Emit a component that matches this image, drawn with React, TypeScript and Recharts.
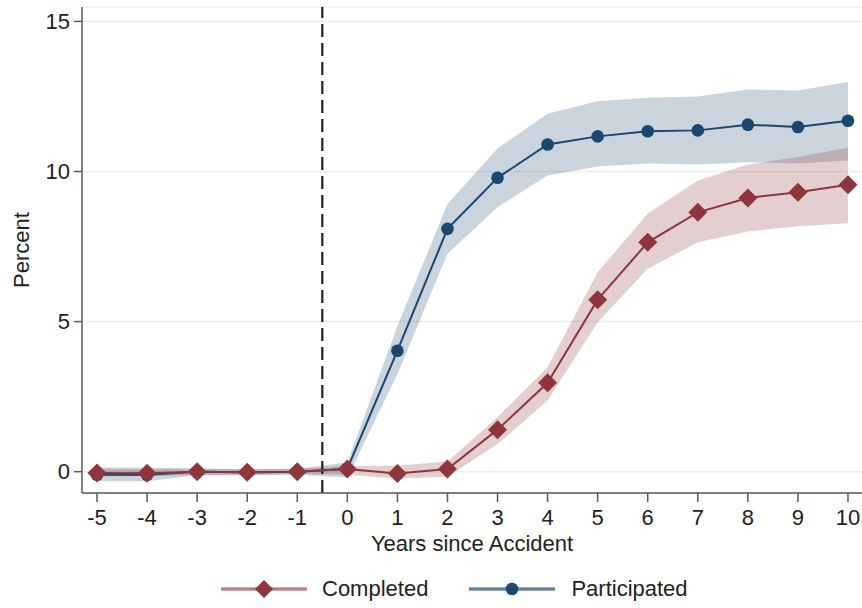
import { Area, CartesianGrid, ComposedChart, Label, Line, ReferenceLine, XAxis, YAxis } from "recharts"

const years = [-5, -4, -3, -2, -1, 0, 1, 2, 3, 4, 5, 6, 7, 8, 9, 10]

const completed = [-0.04, -0.05, 0.0, -0.02, 0.0, 0.09, -0.06, 0.09, 1.4, 2.96, 5.73, 7.64, 8.64, 9.12, 9.31, 9.56]
const completedLow = [-0.15, -0.15, -0.1, -0.1, -0.08, -0.1, -0.23, -0.17, 0.92, 2.37, 4.98, 6.76, 7.64, 8.0, 8.18, 8.28]
const completedHigh = [0.1, 0.08, 0.1, 0.08, 0.1, 0.2, 0.2, 0.34, 1.81, 3.48, 6.64, 8.6, 9.7, 10.23, 10.48, 10.79]

const participated = [-0.1, -0.1, 0.0, -0.02, 0.0, 0.1, 4.03, 8.09, 9.79, 10.9, 11.17, 11.34, 11.37, 11.56, 11.48, 11.69]
const participatedLow = [-0.32, -0.32, -0.12, -0.12, -0.1, -0.19, 3.25, 7.26, 8.81, 9.87, 10.17, 10.27, 10.23, 10.31, 10.27, 10.37]
const participatedHigh = [0.14, 0.14, 0.1, 0.08, 0.1, 0.31, 4.85, 8.92, 10.77, 11.92, 12.34, 12.46, 12.5, 12.73, 12.7, 12.98]

const yTicks = [0, 5, 10, 15]

const RED = "#90353b"
const BLUE = "#1a476f"
const AXIS = "#5a5a5a"
const FONT = "'Liberation Sans', Arial, sans-serif"

const data = years.map((year, i) => ({
  year,
  completed: completed[i],
  completedBand: [completedLow[i], completedHigh[i]],
  participated: participated[i],
  participatedBand: [participatedLow[i], participatedHigh[i]],
}))

function Diamond(props: any) {
  const { cx, cy, index } = props
  const r = 9.5
  return (
    <path
      key={`diamond-${index}`}
      d={`M${cx},${cy - r} L${cx + r},${cy} L${cx},${cy + r} L${cx - r},${cy} Z`}
      fill={RED}
    />
  )
}

function LegendKey({ color, band, marker }: { color: string; band: string; marker: "diamond" | "circle" }) {
  return (
    <svg width={86} height={24} style={{ display: "block" }}>
      <line x1={0} y1={12} x2={86} y2={12} stroke={band} strokeWidth={4} />
      <line x1={0} y1={12} x2={86} y2={12} stroke={color} strokeWidth={1.5} strokeOpacity={0.5} />
      {marker === "diamond" ? (
        <path d="M43,3 L52,12 L43,21 L34,12 Z" fill={color} />
      ) : (
        <circle cx={43} cy={12} r={6.3} fill={color} />
      )}
    </svg>
  )
}

export default function App() {
  const tickStyle = { fontSize: 22, fill: "#222", fontFamily: FONT }
  return (
    <div style={{ position: "absolute", left: 0, top: 0, width: 862, height: 608, background: "#fff", fontFamily: FONT }}>
      <ComposedChart width={862} height={608} data={data} margin={{ top: 7, right: 0, left: 0, bottom: 55 }}>
        <CartesianGrid horizontal vertical={false} stroke="#e8f0f2" strokeWidth={1.5} />
        <XAxis
          dataKey="year"
          type="number"
          domain={[-5.3, 10.28]}
          ticks={years}
          interval={0}
          allowDataOverflow
          height={60}
          tickSize={9}
          tickMargin={7}
          tick={tickStyle}
          axisLine={{ stroke: AXIS, strokeWidth: 1.5 }}
          tickLine={{ stroke: AXIS, strokeWidth: 1.5 }}
        >
          <Label value="Years since Accident" position="insideBottom" offset={2} style={{ fontSize: 22, fill: "#222", fontFamily: FONT }} />
        </XAxis>
        <YAxis
          type="number"
          domain={[-0.71, 15.48]}
          ticks={yTicks}
          allowDataOverflow
          width={82}
          tickSize={8}
          tickMargin={4}
          tick={tickStyle}
          axisLine={{ stroke: AXIS, strokeWidth: 1.5 }}
          tickLine={{ stroke: AXIS, strokeWidth: 1.5 }}
        >
          <Label value="Percent" angle={-90} position="insideLeft" offset={21} style={{ fontSize: 22, fill: "#222", fontFamily: FONT, textAnchor: "middle" }} />
        </YAxis>
        <Area
          dataKey="participatedBand"
          type="linear"
          stroke="none"
          fill={BLUE}
          fillOpacity={0.235}
          isAnimationActive={false}
          activeDot={false}
        />
        <Area
          dataKey="completedBand"
          type="linear"
          stroke="none"
          fill={RED}
          fillOpacity={0.24}
          isAnimationActive={false}
          activeDot={false}
        />
        <ReferenceLine x={-0.5} stroke="#222" strokeWidth={2.2} strokeDasharray="13 6" />
        <Line
          dataKey="participated"
          type="linear"
          stroke={BLUE}
          strokeWidth={2}
          dot={{ r: 6.3, fill: BLUE, stroke: "none" }}
          activeDot={false}
          isAnimationActive={false}
        />
        <Line
          dataKey="completed"
          type="linear"
          stroke={RED}
          strokeWidth={2}
          dot={Diamond}
          activeDot={false}
          isAnimationActive={false}
        />
      </ComposedChart>
      <div
        style={{
          position: "absolute",
          left: 221,
          top: 576,
          display: "flex",
          alignItems: "center",
          fontSize: 22,
          color: "#222",
          whiteSpace: "nowrap",
        }}
      >
        <LegendKey color={RED} band="#d9a9ad" marker="diamond" />
        <span style={{ marginLeft: 15, marginRight: 41 }}>Completed</span>
        <LegendKey color={BLUE} band="#8fa6bd" marker="circle" />
        <span style={{ marginLeft: 16 }}>Participated</span>
      </div>
    </div>
  )
}
